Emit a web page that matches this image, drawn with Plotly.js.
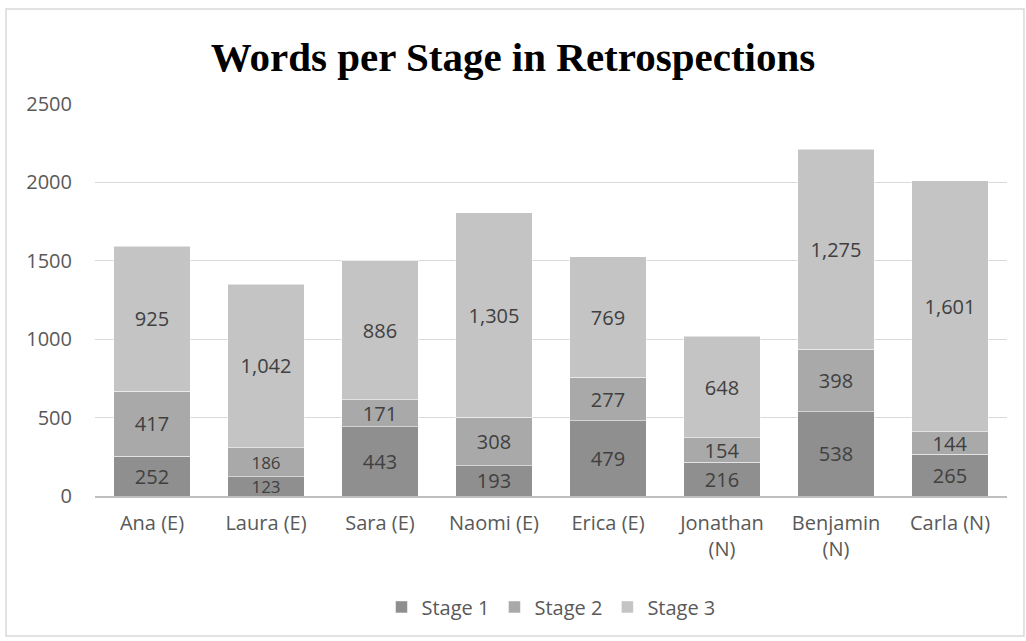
<!DOCTYPE html>
<html><head><meta charset="utf-8">
<script src="https://cdn.plot.ly/plotly-3.0.1.min.js"></script>
<style>body{margin:0;background:#fff}#c{width:1026px;height:641px}</style>
</head><body><div id="c"></div>
<script>
const categories = ["Ana (E)", "Laura (E)", "Sara (E)", "Naomi (E)", "Erica (E)", "Jonathan<br>(N)", "Benjamin<br>(N)", "Carla (N)"];
const stage1 = [252, 123, 443, 193, 479, 216, 538, 265];
const stage2 = [417, 186, 171, 308, 277, 154, 398, 144];
const stage3 = [925, 1042, 886, 1305, 769, 648, 1275, 1601];
const seriesNames = ["Stage 1", "Stage 2", "Stage 3"];
const colors = ["#8f8f8f", "#a9a9a9", "#c4c4c4"];
const font = "'Open Sans', Lato, sans-serif";
const series = [stage1, stage2, stage3];
const traces = series.map((v, i) => ({
  type: "bar", x: categories, y: v, name: seriesNames[i],
  marker: {color: colors[i], line: {color: "#ffffff", width: 0.5}},
  text: v.map(n => n.toLocaleString("en-US")), textposition: "inside",
  insidetextanchor: "middle", textangle: 0,
  // the two thin Laura segments get a slightly smaller label so they do not collide
  textfont: {family: font, size: v.map((n, j) => (i < 2 && j === 1) ? 17 : 20), color: "#404040"},
  constraintext: "none", hoverinfo: "skip"
}));
const layout = {
  width: 1026, height: 641, barmode: "stack", bargap: 0.33,
  paper_bgcolor: "#fff", plot_bgcolor: "#fff",
  margin: {l: 95, r: 19, t: 104, b: 145},
  title: {text: "<b>Words per Stage in Retrospections</b>", x: 0.5, xanchor: "center", y: 0.911, yanchor: "middle",
          font: {family: "'Liberation Serif', 'DejaVu Serif', serif", size: 41, color: "#000"}},
  xaxis: {tickfont: {family: font, size: 20, color: "#595959"}, showline: true, linecolor: "#bfbfbf", linewidth: 1.5,
          ticks: "", fixedrange: true, ticklabelstandoff: 8},
  yaxis: {range: [0, 2500], dtick: 500, tickformat: "d", gridcolor: "#d9d9d9", gridwidth: 1, zeroline: false,
          tickfont: {family: font, size: 20, color: "#595959"}, ticklabelstandoff: 22, ticks: ""},
  legend: {orientation: "h", x: 0.5, xanchor: "center", y: -0.283, yanchor: "middle",
           font: {family: font, size: 20, color: "#595959"}, traceorder: "normal", itemwidth: 30},
  shapes: [{type: "rect", xref: "paper", yref: "paper", x0: -0.0976, x1: 1.0186, y0: -0.357, y1: 1.2423,
            line: {color: "#d9d9d9", width: 1.5}, fillcolor: "rgba(0,0,0,0)", layer: "below"}],
  showlegend: true
};
Plotly.newPlot("c", traces, layout, {displayModeBar: false, staticPlot: true});
</script></body></html>
